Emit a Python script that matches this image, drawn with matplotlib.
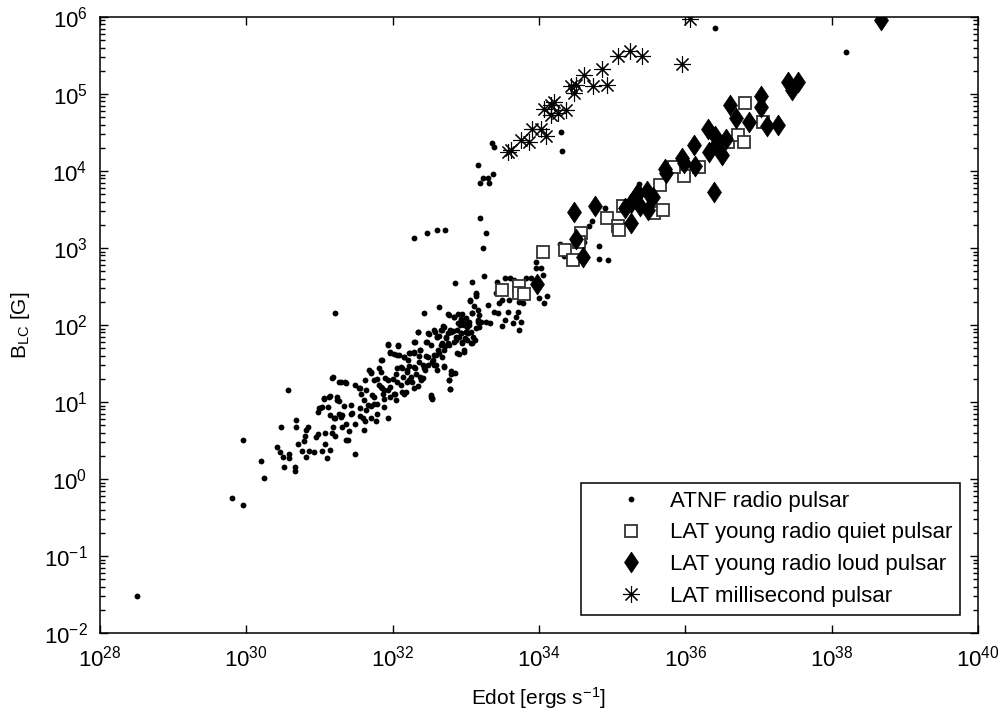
import numpy as np
import matplotlib
matplotlib.use('Agg')
import matplotlib.pyplot as plt
from matplotlib.ticker import FixedLocator, NullLocator, LogFormatterSciNotation

plt.rcParams['font.family'] = ['Liberation Sans', 'DejaVu Sans']
plt.rcParams['mathtext.fontset'] = 'custom'
plt.rcParams['mathtext.rm'] = 'Liberation Sans'
plt.rcParams['mathtext.it'] = 'Liberation Sans:italic'

# log10 values
atnf_log_edot = [
    28.51, 31.21, 30.57, 29.95, 29.80, 29.96, 30.20, 30.24, 30.42, 30.48,
    30.46, 30.50, 30.58, 30.59, 30.52, 30.66, 30.66, 30.68, 30.68, 30.70,
    30.76, 30.81, 30.79, 30.80, 30.82, 30.84, 30.85, 30.92, 30.95, 30.98,
    30.98, 31.01, 31.04, 31.06, 31.03, 31.08, 31.08, 31.10, 31.11, 31.14,
    31.14, 31.15, 31.17, 31.19, 31.21, 31.21, 31.18, 31.27, 31.35, 31.24,
    31.26, 31.27, 31.30, 31.31, 31.34, 31.36, 31.36, 31.39, 31.41, 31.43,
    31.45, 31.48, 31.49, 31.49, 31.54, 31.57, 31.56, 31.59, 31.61, 31.62,
    31.62, 31.63, 31.66, 31.68, 31.70, 31.70, 31.72, 31.71, 31.74, 31.74,
    31.77, 31.79, 31.79, 31.81, 31.82, 31.84, 31.84, 31.86, 31.87, 31.88,
    31.88, 31.90, 31.94, 31.94, 31.93, 31.96, 31.96, 31.97, 32.00, 32.02,
    32.03, 32.05, 32.06, 32.07, 32.09, 32.11, 32.12, 32.13, 32.14, 32.16,
    32.18, 32.19, 32.20, 32.21, 32.22, 32.24, 32.25, 32.26, 32.29, 32.29,
    32.31, 32.32, 32.34, 32.34, 32.36, 32.37, 32.38, 32.39, 32.41, 32.43,
    32.44, 32.46, 32.47, 32.48, 32.50, 32.52, 32.54, 32.55, 32.57, 32.57,
    32.59, 32.60, 32.62, 32.63, 32.64, 32.66, 32.67, 32.68, 32.69, 32.70,
    32.72, 32.73, 32.75, 32.76, 32.77, 32.78, 32.79, 32.80, 32.82, 32.84,
    32.85, 32.85, 32.86, 32.88, 32.89, 32.90, 32.91, 32.92, 32.93, 32.94,
    32.95, 32.97, 32.98, 32.99, 33.00, 33.01, 33.03, 33.05, 33.06, 33.07,
    33.08, 33.09, 33.09, 33.10, 33.12, 33.14, 33.14, 33.14, 33.16, 33.17,
    33.18, 33.21, 33.25, 33.27, 33.30, 33.33, 33.39, 33.41, 33.43, 33.44,
    33.46, 33.49, 33.50, 33.53, 33.53, 33.58, 33.59, 33.61, 33.65, 33.66,
    33.68, 33.71, 33.73, 33.73, 33.75, 33.76, 33.78, 33.82, 33.89, 33.96,
    33.96, 34.00, 34.03, 34.05, 34.07, 34.11,
    33.17, 33.24, 33.30, 33.37, 33.19, 33.32, 33.19, 33.27, 33.24, 32.29,
    32.47, 32.60, 32.72, 34.29, 34.34, 34.61, 34.68, 34.72, 34.82, 34.82,
    34.94, 34.90, 35.37, 33.36, 33.39, 34.30, 34.31, 36.40, 38.19,
    32.77, 32.84, 32.95, 33.00, 33.06, 33.14, 33.11, 33.09, 33.16, 33.18,
    33.05, 32.93, 32.89, 32.98, 33.00, 32.93, 32.86, 32.80, 32.75, 32.70,
    32.66, 32.61, 32.58, 32.52, 32.48, 32.34, 32.68, 32.73, 32.77, 32.84,
    32.95, 33.02, 33.07, 32.98, 32.88, 32.70, 32.63, 32.59, 32.54, 32.48,
    32.38, 32.29, 32.22, 32.16, 32.06, 31.97, 31.94, 32.07, 32.30, 32.46,
    32.57, 32.70, 32.80, 32.77, 32.79, 32.61, 32.43, 32.36, 32.29, 32.20,
    32.13, 32.04, 31.93, 31.84, 31.86, 31.70, 31.79, 31.88, 32.02, 32.16,
    32.29, 32.41, 32.22, 32.06, 31.74, 31.63, 31.56, 31.61, 31.56, 31.43,
    31.31, 31.20, 31.24, 31.13, 31.06, 30.99, 31.17, 31.29, 31.36, 32.52, 32.54,
]
atnf_log_b = [
    -1.52, 2.15, 1.15, 0.50, -0.25, -0.34, 0.23, 0.01, 0.42, 0.68,
    0.35, 0.29, 0.33, 0.27, 0.15, 0.16, 0.11, 0.76, 0.67, 0.45,
    0.37, 0.29, 0.49, 0.56, 0.64, 0.67, 0.36, 0.35, 0.54, 0.59,
    0.87, 0.92, 0.94, 1.04, 0.36, 0.45, 0.60, 0.27, 0.94, 1.08,
    0.83, 0.38, 0.60, 0.67, 0.56, 0.79, 1.32, 1.26, 1.26, 1.07,
    1.01, 0.84, 0.80, 0.67, 0.95, 0.50, 0.72, 0.50, 0.62, 0.85,
    0.86, 0.72, 0.33, 1.22, 1.18, 1.10, 0.82, 0.79, 0.64, 1.29,
    0.75, 0.90, 0.96, 1.42, 1.38, 0.95, 1.09, 0.79, 1.29, 0.98,
    0.75, 0.85, 0.97, 1.44, 1.22, 1.55, 1.39, 1.18, 1.11, 0.94,
    1.04, 1.31, 0.79, 1.74, 1.16, 1.65, 1.07, 1.20, 1.30, 1.62,
    1.10, 1.03, 1.44, 1.73, 1.61, 1.22, 1.46, 1.13, 1.33, 1.58,
    1.13, 1.26, 1.39, 1.54, 1.47, 1.64, 1.33, 1.26, 1.78, 1.65,
    1.44, 1.37, 1.21, 1.91, 1.60, 1.33, 1.68, 1.28, 1.48, 2.15,
    1.41, 1.60, 1.78, 1.48, 1.88, 1.09, 1.04, 1.55, 1.61, 1.94,
    1.48, 1.84, 1.68, 2.23, 1.86, 1.74, 1.94, 1.59, 1.99, 1.47,
    1.73, 1.85, 1.77, 2.14, 1.29, 1.17, 1.94, 1.37, 1.92, 2.11,
    1.38, 2.55, 1.81, 1.94, 2.14, 1.62, 1.84, 2.00, 2.08, 1.89,
    1.76, 2.02, 1.68, 1.83, 1.91, 1.98, 1.89, 2.04, 2.32, 1.91,
    1.76, 2.56, 2.15, 1.85, 1.81, 2.42, 1.96, 2.38, 2.20, 2.04,
    2.13, 2.04, 2.64, 2.04, 2.26, 2.02, 2.17, 2.42, 2.56, 2.15,
    2.28, 1.99, 2.32, 2.61, 2.07, 2.17, 2.33, 2.61, 2.03, 2.58,
    2.11, 2.17, 1.94, 2.30, 2.04, 2.41, 2.28, 2.61, 2.61, 2.82,
    2.74, 2.35, 2.74, 2.65, 2.28, 2.37,
    4.08, 3.91, 3.91, 3.96, 3.84, 3.84, 3.39, 3.20, 3.00, 3.13,
    3.19, 3.24, 3.23, 3.05, 2.89, 3.08, 3.29, 3.35, 3.03, 2.86,
    2.84, 3.52, 3.83, 4.36, 4.31, 4.50, 4.26, 5.86, 5.55,
    2.13, 2.11, 2.14, 2.09, 2.31, 2.40, 2.25, 2.15, 2.07, 1.98,
    2.00, 2.07, 2.02, 2.00, 1.91, 1.89, 1.85, 1.91, 1.89, 1.98,
    1.94, 1.85, 1.91, 1.74, 1.89, 1.91, 1.76, 1.83, 1.74, 1.78,
    1.78, 1.81, 1.76, 1.65, 1.63, 1.68, 1.63, 1.61, 1.52, 1.59,
    1.68, 1.63, 1.63, 1.59, 1.61, 1.63, 1.75, 1.74, 1.78, 1.78,
    1.48, 1.46, 1.40, 1.29, 1.17, 1.42, 1.44, 1.52, 1.46, 1.42,
    1.44, 1.37, 1.29, 1.20, 1.55, 1.39, 1.30, 1.16, 1.11, 1.11,
    1.18, 1.31, 1.29, 1.26, 1.07, 1.16, 1.18, 1.03, 0.92, 0.96,
    0.83, 0.79, 1.03, 1.07, 1.05, 0.92, 1.31, 1.26, 1.25, 1.07, 1.05,
]

quiet_log_edot = [33.50, 33.72, 33.72, 33.80, 34.06, 34.36, 34.46, 34.57, 34.55,
                  34.93, 35.08, 35.10, 35.15, 35.57, 35.69, 35.66, 35.98, 36.19,
                  35.85, 36.59, 36.72, 36.80, 37.06, 36.82]
quiet_log_b = [2.46, 2.50, 2.41, 2.40, 2.95, 2.97, 2.85, 3.19, 3.08,
               3.39, 3.28, 3.23, 3.54, 3.46, 3.49, 3.82, 3.93, 4.05,
               4.05, 4.38, 4.47, 4.38, 4.64, 4.88]

loud_log_edot = [33.97, 34.48, 34.76, 34.51, 34.60, 35.17, 35.26, 35.33, 35.35, 35.47,
                 35.38, 35.49, 35.56, 35.26, 35.72, 35.73, 35.95, 35.98, 36.12, 36.13,
                 36.31, 36.33, 36.40, 36.42, 36.50, 36.56, 36.39, 36.61, 36.69, 36.87,
                 37.11, 37.27, 37.03, 37.04, 37.41, 37.54, 37.46, 38.68]
loud_log_b = [2.53, 3.47, 3.55, 3.12, 2.88, 3.52, 3.32, 3.67, 3.71, 3.74,
              3.54, 3.49, 3.66, 3.58, 4.02, 3.97, 4.17, 4.10, 4.34, 4.06,
              4.55, 4.24, 4.45, 4.34, 4.21, 4.42, 3.73, 4.86, 4.69, 4.64,
              4.59, 4.60, 4.98, 4.83, 5.15, 5.15, 5.05, 5.96]

msp_log_edot = [33.57, 33.62, 33.75, 33.87, 33.91, 34.03, 34.10, 34.07, 34.21, 34.37,
                34.16, 34.26, 34.17, 34.44, 34.51, 34.48, 34.62, 34.74, 34.93, 34.86,
                35.08, 35.24, 35.41, 35.95, 36.06]
msp_log_b = [4.25, 4.27, 4.40, 4.38, 4.55, 4.55, 4.45, 4.81, 4.90, 4.79,
             4.73, 4.75, 4.86, 5.10, 5.12, 5.01, 5.25, 5.10, 5.12, 5.33,
             5.49, 5.56, 5.49, 5.39, 5.98]

labels = ['ATNF radio pulsar', 'LAT young radio quiet pulsar',
          'LAT young radio loud pulsar', 'LAT millisecond pulsar']

x_decades = np.arange(28, 41, 2)
y_decades = np.arange(-2, 7)

# MATLAB-like diamond, a bit wider than matplotlib's thin diamond
diamond = [(0, 1), (0.67, 0), (0, -1), (-0.67, 0), (0, 1)]

fig = plt.figure(figsize=(10.01, 7.19), dpi=100)
ax = fig.add_axes([0.0999, 0.1196, 0.8771, 0.8568])

ax.plot(10 ** np.array(atnf_log_edot), 10 ** np.array(atnf_log_b), linestyle='none',
        marker='o', markersize=4.2, color='k', markeredgewidth=0, label=labels[0])
ax.plot(10 ** np.array(quiet_log_edot), 10 ** np.array(quiet_log_b), linestyle='none',
        marker='s', markersize=8.5, markerfacecolor='white', markeredgecolor='0.2',
        markeredgewidth=1.3, label=labels[1])
ax.plot(10 ** np.array(loud_log_edot), 10 ** np.array(loud_log_b), linestyle='none',
        marker=diamond, markersize=15, color='k', markeredgewidth=0.5, label=labels[2])
ax.plot(10 ** np.array(msp_log_edot), 10 ** np.array(msp_log_b), linestyle='none',
        marker=(8, 2, 0), markersize=12, color='k', markeredgewidth=0.8, label=labels[3])

ax.set_xscale('log')
ax.set_yscale('log')
ax.set_xlim(1e28, 1e40)
ax.set_ylim(1e-2, 1e6)

ax.xaxis.set_major_locator(FixedLocator(10.0 ** x_decades))
ax.xaxis.set_minor_locator(NullLocator())
ax.xaxis.set_major_formatter(LogFormatterSciNotation(base=10))
ax.yaxis.set_major_locator(FixedLocator(10.0 ** y_decades))
y_minor = [m * 10.0 ** d for d in y_decades[:-1] for m in range(2, 10)]
ax.yaxis.set_minor_locator(FixedLocator(y_minor))
ax.yaxis.set_major_formatter(LogFormatterSciNotation(base=10))

ax.tick_params(which='both', direction='in', top=True, right=True, labelsize=16, width=1)
ax.tick_params(which='major', length=6)
ax.tick_params(which='minor', length=3.5)
ax.tick_params(axis='x', pad=9)
ax.tick_params(axis='y', pad=9)
for s in ax.spines.values():
    s.set_linewidth(1.1)

ax.set_xlabel('Edot [ergs s$^{-1}$]', fontsize=15, labelpad=10)
ax.set_ylabel('B$_\\mathregular{LC}$ [G]', fontsize=15, labelpad=8)

leg = ax.legend(loc='lower right', bbox_to_anchor=(0.98, 0.03), borderaxespad=0,
                fontsize=16, numpoints=1, fancybox=False, framealpha=1,
                edgecolor='k', handlelength=3.8, handletextpad=-0.15, borderpad=0.35,
                labelspacing=0.48)
leg.get_frame().set_linewidth(1.1)

fig.savefig('out.png', dpi=100)
